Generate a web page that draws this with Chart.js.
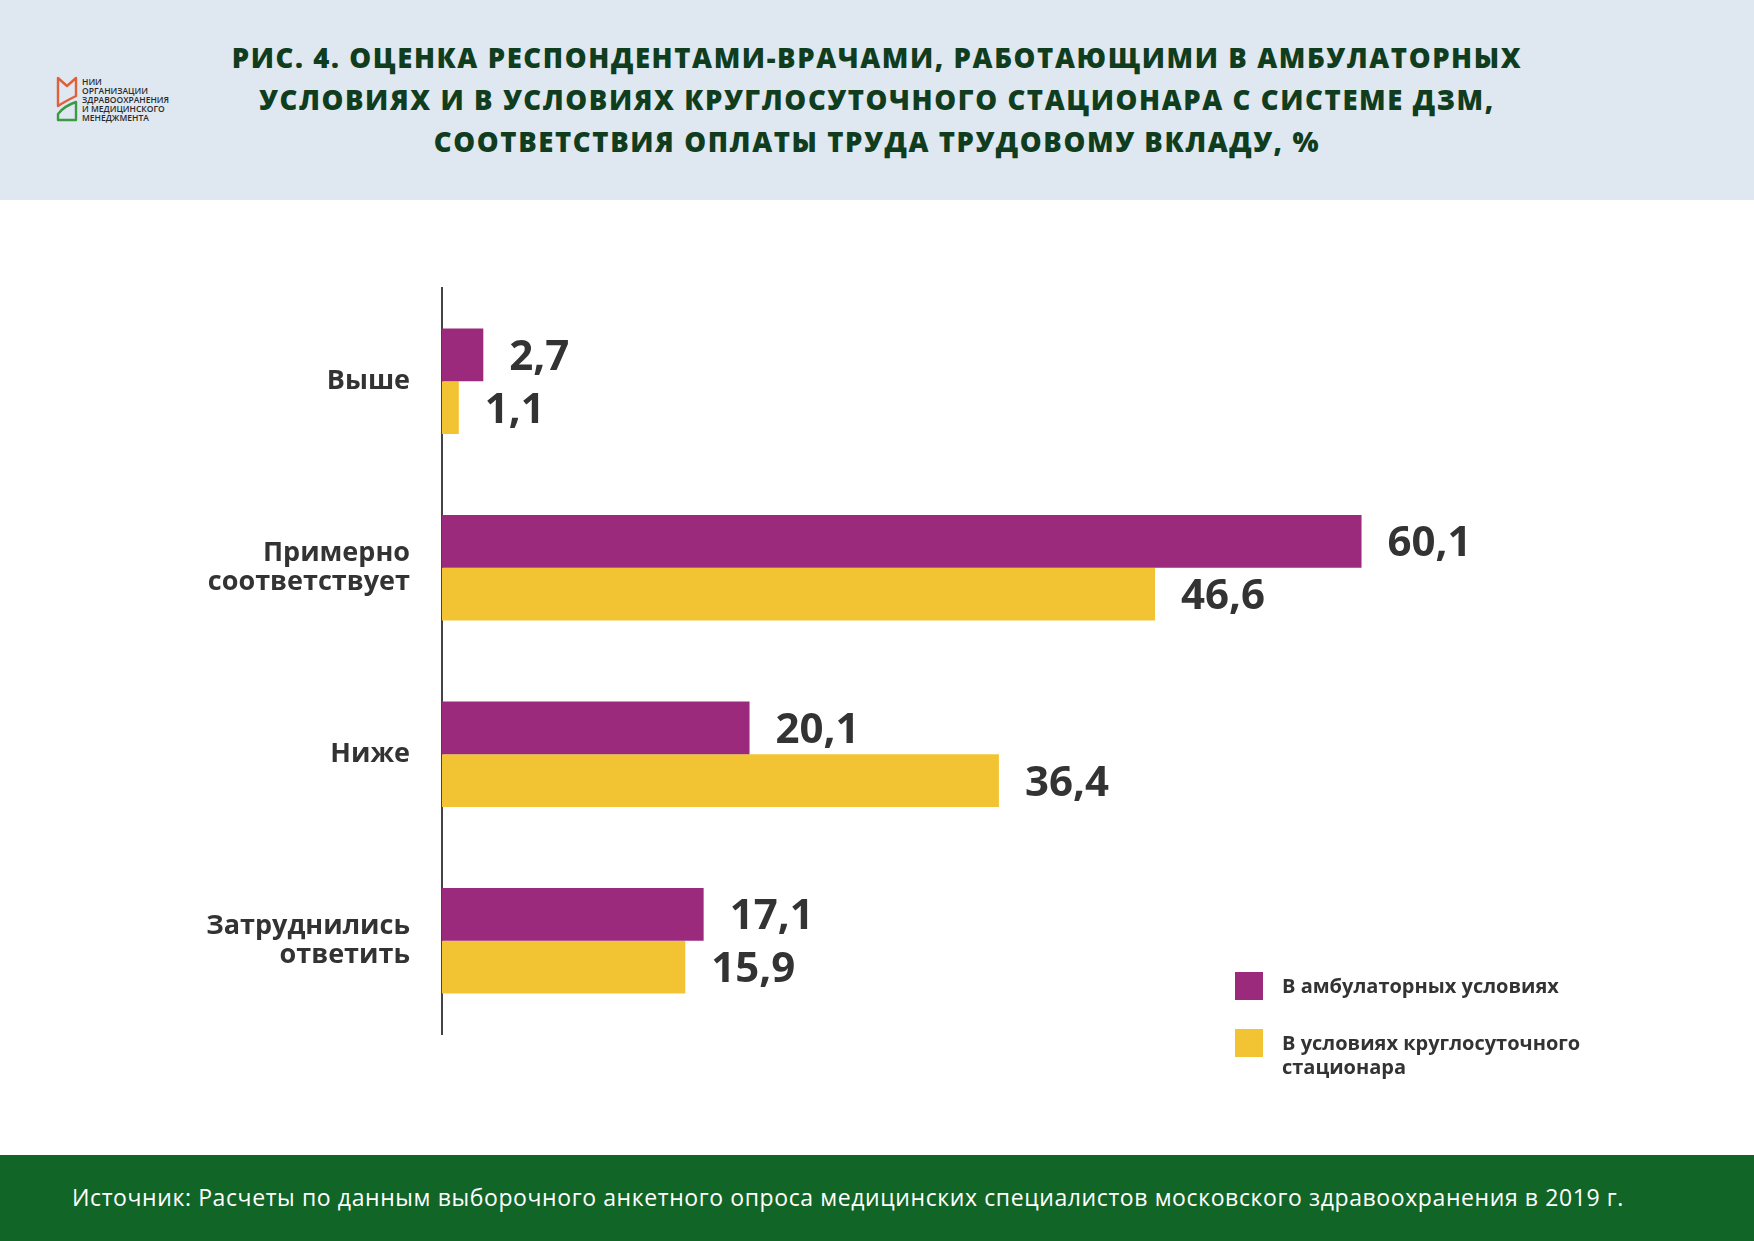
<!DOCTYPE html>
<html lang="ru">
<head>
<meta charset="utf-8">
<script src="https://cdn.jsdelivr.net/npm/chart.js@4.4.0/dist/chart.umd.min.js"></script>
<style>
  html, body { margin:0; padding:0; width:1754px; height:1241px; background:#ffffff; overflow:hidden; font-family:"Open Sans", sans-serif; }
  #header { position:absolute; left:0; top:0; width:1754px; height:200px; background:#dfe7f1; }
  #title { position:absolute; left:0; top:37px; width:1754px; text-align:center; color:#0f3d1e; font-weight:800; font-size:27.5px; line-height:42px; letter-spacing:1.6px; }
  #logo { position:absolute; left:56px; top:76px; }
  #logotext { position:absolute; left:82px; top:77px; font-size:8.5px; line-height:9px; color:#2a2a2a; font-weight:600; }
  #chartwrap { position:absolute; left:0; top:200px; width:1754px; height:955px; }
  #legend { position:absolute; left:1235px; top:972px; color:#333; font-weight:700; font-size:20px; }
  .li { position:absolute; left:0; white-space:nowrap; }
  .sw { position:absolute; left:0; width:28px; height:28px; }
  .lt { position:absolute; left:47px; line-height:24px; }
  #footer { position:absolute; left:0; top:1155px; width:1754px; height:86px; background:#116627; }
  #source { position:absolute; left:72px; top:26px; color:#ffffff; font-size:23px; letter-spacing:0.6px; white-space:nowrap; }
</style>
</head>
<body>
<div id="header">
  <svg id="logo" width="22" height="46" viewBox="0 0 22 46">
    <path d="M2 2 L2 30 Q8 26 20 20 L20 2 L11 10 Z" fill="none" stroke="#e0603a" stroke-width="2.4" stroke-linejoin="round"/>
    <path d="M2 44 L20 44 L20 26 Q8 30 2 38 Z" fill="none" stroke="#3a9a45" stroke-width="2.4" stroke-linejoin="round"/>
  </svg>
  <div id="logotext">НИИ<br>ОРГАНИЗАЦИИ<br>ЗДРАВООХРАНЕНИЯ<br>И МЕДИЦИНСКОГО<br>МЕНЕДЖМЕНТА</div>
  <div id="title">РИС. 4. ОЦЕНКА РЕСПОНДЕНТАМИ-ВРАЧАМИ, РАБОТАЮЩИМИ В АМБУЛАТОРНЫХ<br>УСЛОВИЯХ И В УСЛОВИЯХ КРУГЛОСУТОЧНОГО СТАЦИОНАРА С СИСТЕМЕ ДЗМ,<br>СООТВЕТСТВИЯ ОПЛАТЫ ТРУДА ТРУДОВОМУ ВКЛАДУ, %</div>
</div>

<div id="chartwrap"><canvas id="c" width="1754" height="955"></canvas></div>

<div id="legend">
  <div class="li" style="top:0"><div class="sw" style="background:#9b2a7d"></div><div class="lt" style="top:2px">В амбулаторных условиях</div></div>
  <div class="li" style="top:57px"><div class="sw" style="background:#f2c433"></div><div class="lt" style="top:2px">В условиях круглосуточного<br>стационара</div></div>
</div>

<div id="footer"><div id="source">Источник: Расчеты по данным выборочного анкетного опроса медицинских специалистов московского здравоохранения в 2019 г.</div></div>

<script>
const categories = [['Выше'], ['Примерно', 'соответствует'], ['Ниже'], ['Затруднились', 'ответить']];
const seriesNames = ['В амбулаторных условиях', 'В условиях круглосуточного стационара'];
const ambulatory = [2.7, 60.1, 20.1, 17.1];
const inpatient = [1.1, 46.6, 36.4, 15.9];
const colors = ['#9b2a7d', '#f2c433'];

const valueLabels = {
  id: 'valueLabels',
  afterDatasetsDraw(chart) {
    const ctx = chart.ctx;
    ctx.save();
    ctx.font = '700 42px "Open Sans"';
    ctx.fillStyle = '#333333';
    ctx.textAlign = 'left';
    ctx.textBaseline = 'alphabetic';
    chart.data.datasets.forEach((ds, i) => {
      chart.getDatasetMeta(i).data.forEach((bar, j) => {
        const txt = ds.data[j].toFixed(1).replace('.', ',');
        ctx.fillText(txt, bar.x + 26, bar.y + 15);
      });
    });
    ctx.restore();
  }
};

new Chart(document.getElementById('c'), {
  type: 'bar',
  data: {
    labels: categories,
    datasets: [
      { label: seriesNames[0], data: ambulatory, backgroundColor: colors[0] },
      { label: seriesNames[1], data: inpatient, backgroundColor: colors[1] }
    ]
  },
  options: {
    indexAxis: 'y',
    responsive: false,
    animation: false,
    devicePixelRatio: 1,
    categoryPercentage: 0.565,
    barPercentage: 1.0,
    layout: { padding: { left: 0, right: 88, top: 88, bottom: 121 } },
    plugins: { legend: { display: false }, tooltip: { enabled: false } },
    scales: {
      x: { display: false, min: 0, max: 80 },
      y: {
        afterFit(scale) { scale.width = 442; },
        grid: { display: false, drawTicks: false },
        border: { display: true, color: '#444444', width: 2 },
        ticks: {
          padding: 32,
          color: '#333333',
          font: { family: '"Open Sans"', weight: '700', size: 27, lineHeight: 1.05 }
        }
      }
    }
  },
  plugins: [valueLabels]
});
</script>
</body>
</html>
